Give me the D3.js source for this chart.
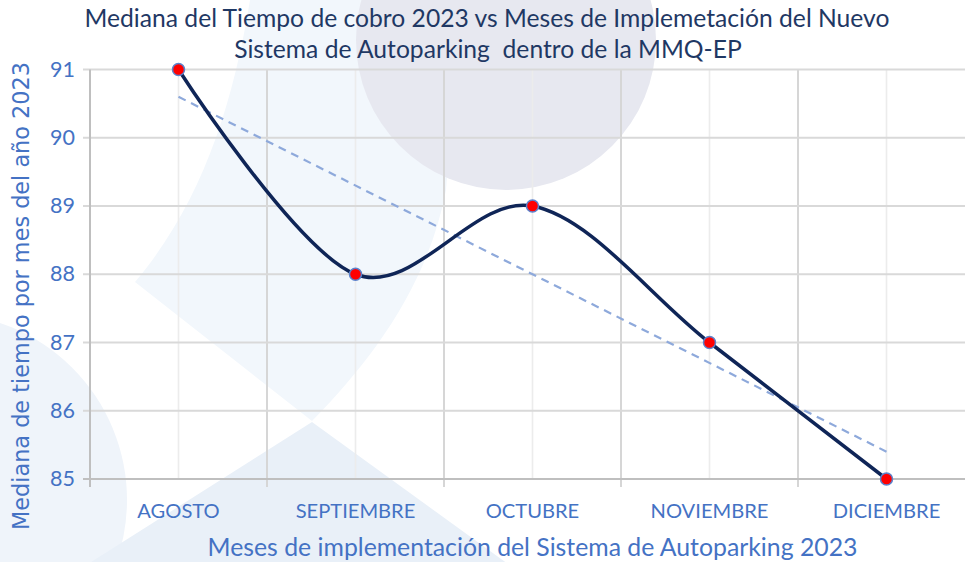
<!DOCTYPE html>
<html>
<head>
<meta charset="utf-8">
<script src="https://cdn.jsdelivr.net/npm/d3@7"></script>
<style>
  html, body { margin: 0; padding: 0; background: #fff; overflow: hidden; }
  svg { display: block; }
</style>
</head>
<body>
<svg id="chart" width="965" height="562"></svg>
<script>
// ---- data ----
const months = ["AGOSTO", "SEPTIEMBRE", "OCTUBRE", "NOVIEMBRE", "DICIEMBRE"];
const medianTimes = [91, 88, 89, 87, 85];
const yTicks = [85, 86, 87, 88, 89, 90, 91];
const titleLines = [
  "Mediana del Tiempo de cobro 2023 vs Meses de Implemetación del Nuevo",
  "Sistema de Autoparking  dentro de la MMQ-EP"
];
const xAxisTitle = "Meses de implementación del Sistema de Autoparking 2023";
const yAxisTitle = "Mediana de tiempo por mes del año 2023";

// ---- layout ----
const W = 965, H = 562;
const plot = { left: 90, right: 975, top: 69.5, bottom: 479 };
const svg = d3.select("#chart");

const x = d3.scaleBand().domain(months).range([plot.left, plot.right]).padding(0);
const bw = x.bandwidth();
const cx = m => x(m) + bw / 2;
const y = d3.scaleLinear().domain([85, 91]).range([plot.bottom, plot.top]);

function fit(sel, target) {
  const node = sel.node();
  const fs = parseFloat(sel.attr("font-size"));
  const len = node.getComputedTextLength();
  if (len > 0) sel.attr("font-size", (fs * target / len).toFixed(2));
  return parseFloat(sel.attr("font-size"));
}

// ---- decorative background ----
const bg = svg.append("g");
bg.append("path")
  .attr("d", "M250,0 C232,110 200,205 135,282 L312,421 C372,360 428,285 446,190 C452,120 456,60 458,0 Z")
  .attr("fill", "#F2F7FC");
bg.append("circle").attr("cx", -60).attr("cy", 500).attr("r", 187).attr("fill", "#EFF4FA");
bg.append("path").attr("d", "M312,422 L88,564 L508,564 Z").attr("fill", "#E9F0F8");
bg.append("circle").attr("cx", 506).attr("cy", 40).attr("r", 150).attr("fill", "#E7E8F0");

// ---- gridlines ----
const grid = svg.append("g");
grid.selectAll("line.vmin").data(months).join("line")
  .attr("x1", d => cx(d)).attr("x2", d => cx(d))
  .attr("y1", plot.top).attr("y2", plot.bottom)
  .attr("stroke", "#ECECEC").attr("stroke-width", 1.6);
const bounds = months.slice(1).map(m => x(m)).concat([plot.right]);
grid.selectAll("line.vmaj").data(bounds).join("line")
  .attr("x1", d => d).attr("x2", d => d)
  .attr("y1", plot.top).attr("y2", plot.bottom + 8)
  .attr("stroke", "#D6D6D6").attr("stroke-width", 2);
grid.selectAll("line.h").data(yTicks).join("line")
  .attr("x1", plot.left - 7).attr("x2", plot.right)
  .attr("y1", d => y(d)).attr("y2", d => y(d))
  .attr("stroke", d => d === 85 ? "#BFBFBF" : "#D9D9D9").attr("stroke-width", 2);
svg.append("line").attr("x1", plot.left).attr("x2", plot.left)
  .attr("y1", plot.top).attr("y2", plot.bottom + 8)
  .attr("stroke", "#BFBFBF").attr("stroke-width", 2);

// ---- tick labels ----
const labelColor = "#4472C4";
const tickFont = "Lato, 'Open Sans', sans-serif";
svg.append("g").selectAll("text").data(yTicks).join("text")
  .attr("x", 75).attr("y", d => y(d) + 7)
  .attr("text-anchor", "end")
  .attr("fill", labelColor)
  .attr("font-family", tickFont).attr("font-size", 21.5)
  .text(d => d);

const xLab = svg.append("g").selectAll("text").data(months).join("text")
  .attr("x", d => cx(d)).attr("y", 518)
  .attr("text-anchor", "middle")
  .attr("fill", labelColor)
  .attr("font-family", tickFont).attr("font-size", 17.5)
  .text(d => d);
const xfs = fit(xLab.filter(d => d === "NOVIEMBRE"), 118);
xLab.attr("font-size", xfs);

// ---- trendline (linear regression of the series) ----
const n = medianTimes.length;
const idx = d3.range(n);
const mx = d3.mean(idx), my = d3.mean(medianTimes);
const slope = d3.sum(idx, i => (i - mx) * (medianTimes[i] - my)) / d3.sum(idx, i => (i - mx) ** 2);
const icpt = my - slope * mx;
svg.append("line")
  .attr("x1", cx(months[0])).attr("y1", y(icpt))
  .attr("x2", cx(months[n - 1])).attr("y2", y(icpt + slope * (n - 1)))
  .attr("stroke", "#8EA9DB").attr("stroke-width", 2.2)
  .attr("stroke-dasharray", "8,6");

// ---- smoothed line ----
const pts = months.map((m, i) => [cx(m), y(medianTimes[i])]);
svg.append("path")
  .attr("d", d3.line().curve(d3.curveCardinal.tension(0))(pts))
  .attr("fill", "none").attr("stroke", "#0F2557").attr("stroke-width", 3.5);

// ---- markers ----
svg.append("g").selectAll("circle").data(pts).join("circle")
  .attr("cx", d => d[0]).attr("cy", d => d[1]).attr("r", 6)
  .attr("fill", "#FF0000").attr("stroke", "#5B82CC").attr("stroke-width", 1.5);

// ---- titles ----
const tFont = "Lato, 'Open Sans', sans-serif";
const t1 = svg.append("text").attr("x", 487).attr("y", 27).attr("text-anchor", "middle")
  .attr("fill", "#1F3864").attr("font-family", tFont).attr("font-size", 21).text(titleLines[0]);
fit(t1, 805);
svg.append("text").attr("x", 488).attr("y", 58).attr("text-anchor", "middle")
  .attr("fill", "#1F3864").attr("font-family", tFont).attr("font-size", t1.attr("font-size"))
  .style("white-space", "pre").text(titleLines[1]);

const xt = svg.append("text").attr("x", (plot.left + plot.right) / 2).attr("y", 556)
  .attr("text-anchor", "middle").attr("fill", labelColor)
  .attr("font-family", tFont).attr("font-size", 21).text(xAxisTitle);
fit(xt, 650);

const yt = svg.append("text")
  .attr("transform", "translate(29,296) rotate(-90)")
  .attr("text-anchor", "middle").attr("fill", labelColor)
  .attr("font-family", "'DejaVu Sans', Verdana, sans-serif").attr("font-size", 19)
  .text(yAxisTitle);
fit(yt, 468);
</script>
</body>
</html>
